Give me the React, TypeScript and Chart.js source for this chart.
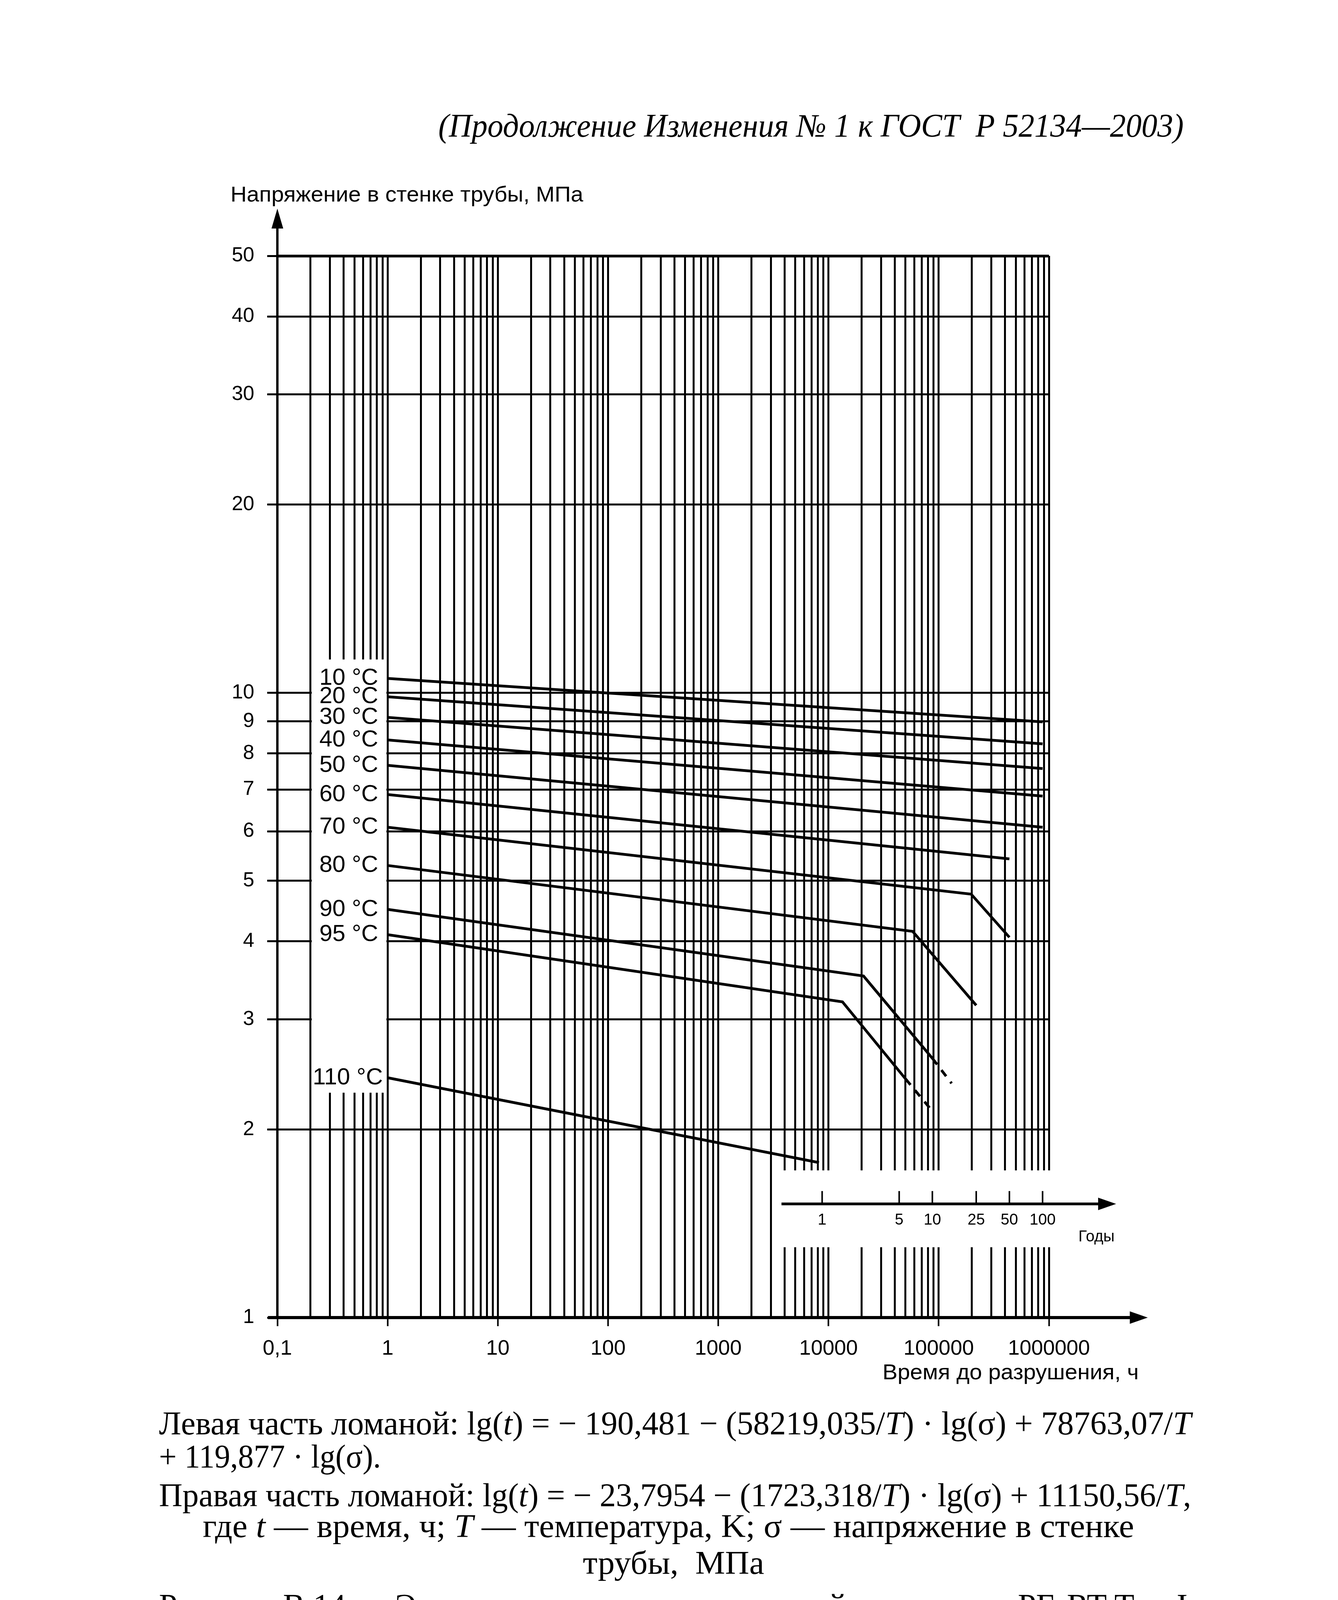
import React, { useEffect, useLayoutEffect, useRef } from 'react';
import { Chart, registerables } from 'chart.js';

Chart.register(...registerables);

// ---------- axis ticks ----------
const yTickValues = [1, 2, 3, 4, 5, 6, 7, 8, 9, 10, 20, 30, 40, 50];
const yTickLabels = ['1', '2', '3', '4', '5', '6', '7', '8', '9', '10', '20', '30', '40', '50'];
const xDecades = [0.1, 1, 10, 100, 1000, 10000, 100000, 1000000];
const xDecadeLabels = ['0,1', '1', '10', '100', '1000', '10000', '100000', '1000000'];
const yearTicks = [1, 5, 10, 25, 50, 100];
const yearLabels = ['1', '5', '10', '25', '50', '100'];
const HOURS_PER_YEAR = 8760;

// ---------- series (time to failure, h / hoop stress, MPa) ----------
const seriesLabels = ['10 °C', '20 °C', '30 °C', '40 °C', '50 °C', '60 °C', '70 °C', '80 °C', '90 °C', '95 °C', '110 °C'];
const temp10Hours = [1, 876000];
const temp10Stress = [10.54, 8.98];
const temp20Hours = [1, 876000];
const temp20Stress = [9.85, 8.28];
const temp30Hours = [1, 876000];
const temp30Stress = [9.13, 7.56];
const temp40Hours = [1, 876000];
const temp40Stress = [8.4, 6.83];
const temp50Hours = [1, 876000];
const temp50Stress = [7.65, 6.09];
const temp60Hours = [1, 438000];
const temp60Stress = [6.87, 5.42];
const temp70Hours = [1, 197000, 438000];
const temp70Stress = [6.09, 4.76, 4.06];
const temp80Hours = [1, 58000, 219000];
const temp80Stress = [5.29, 4.15, 3.16];
const temp90Hours = [1, 20800, 87600, 131000];
const temp90Stress = [4.5, 3.52, 2.6, 2.37];
const temp95Hours = [1, 13400, 50000, 87600];
const temp95Stress = [4.1, 3.2, 2.41, 2.14];
const temp110Hours = [1, 8200];
const temp110Stress = [2.42, 1.77];
// index of first dashed segment (-1 = none)
const dashedFrom = [-1, -1, -1, -1, -1, -1, -1, -1, 2, 2, -1];

const seriesHours = [temp10Hours, temp20Hours, temp30Hours, temp40Hours, temp50Hours, temp60Hours, temp70Hours, temp80Hours, temp90Hours, temp95Hours, temp110Hours];
const seriesStress = [temp10Stress, temp20Stress, temp30Stress, temp40Stress, temp50Stress, temp60Stress, temp70Stress, temp80Stress, temp90Stress, temp95Stress, temp110Stress];

// ---------- layout ----------
const PAGE_W = 3425;
const PAGE_H = 4725;
const CANVAS_H = 3600;
const AREA_L = 710;
const AREA_R = 2685;
const AREA_T = 655;
const AREA_B = 3373;
const Y_AXIS_W = 200;
const X_AXIS_H = 150;

const FONT_SANS = '"Liberation Sans", Arial, sans-serif';
const FONT_SERIF = '"Liberation Serif", "Times New Roman", serif';

const xGridValues: number[] = (() => {
  const out: number[] = [];
  for (let i = 0; i < xDecades.length - 1; i++) {
    for (let k = 1; k <= 9; k++) out.push(k * xDecades[i]);
  }
  out.push(xDecades[xDecades.length - 1]);
  return out;
})();

function decadeIndex(v: number): number {
  if (!(v > 0)) return -1;
  const l = Math.log10(v);
  return xDecades.findIndex((d) => Math.abs(Math.log10(d) - l) < 1e-6);
}

const decorPlugin = {
  id: 'decor',
  beforeDatasetsDraw(chart: any) {
    const { ctx, chartArea, scales } = chart;
    const x = scales.x;
    const y = scales.y;
    ctx.save();
    ctx.fillStyle = '#ffffff';
    // blank box holding the temperature labels
    const lx0 = x.getPixelForValue(0.2) + 3;
    const lx1 = x.getPixelForValue(1) - 3;
    const ly0 = y.getPixelForValue(11.3);
    const ly1 = y.getPixelForValue(2.29);
    ctx.fillRect(lx0, ly0, lx1 - lx0, ly1 - ly0);
    // blank box holding the years scale
    const bx0 = x.getPixelForValue(3000) + 3;
    const bx1 = chartArea.right + 240;
    const by0 = y.getPixelForValue(1.72);
    const by1 = y.getPixelForValue(1.296);
    ctx.fillRect(bx0, by0, bx1 - bx0, by1 - by0);
    ctx.restore();
  },
  afterDraw(chart: any) {
    const { ctx, chartArea, scales } = chart;
    const x = scales.x;
    const y = scales.y;
    ctx.save();
    ctx.strokeStyle = '#000';
    ctx.fillStyle = '#000';
    ctx.lineCap = 'butt';

    // y axis extension + arrow
    ctx.lineWidth = 6;
    ctx.beginPath();
    ctx.moveTo(chartArea.left, chartArea.top);
    ctx.lineTo(chartArea.left, chartArea.top - 70);
    ctx.stroke();
    ctx.beginPath();
    ctx.moveTo(chartArea.left, chartArea.top - 121);
    ctx.lineTo(chartArea.left - 15, chartArea.top - 70);
    ctx.lineTo(chartArea.left + 15, chartArea.top - 70);
    ctx.closePath();
    ctx.fill();

    // x axis extension + arrow
    ctx.lineWidth = 8;
    ctx.beginPath();
    ctx.moveTo(chartArea.left - 24, chartArea.bottom);
    ctx.lineTo(chartArea.right + 210, chartArea.bottom);
    ctx.stroke();
    ctx.beginPath();
    ctx.moveTo(chartArea.right + 253, chartArea.bottom);
    ctx.lineTo(chartArea.right + 207, chartArea.bottom - 16);
    ctx.lineTo(chartArea.right + 207, chartArea.bottom + 16);
    ctx.closePath();
    ctx.fill();

    // temperature labels
    ctx.font = `60px ${FONT_SANS}`;
    ctx.textAlign = 'right';
    ctx.textBaseline = 'middle';
    const x1 = x.getPixelForValue(1);
    seriesLabels.forEach((lab, i) => {
      const off = lab.length > 5 ? 12 : 24;
      ctx.fillText(lab, x1 - off, y.getPixelForValue(seriesStress[i][0]));
    });

    // years scale
    const yy = y.getPixelForValue(1.52);
    const ys0 = x.getPixelForValue(4000) - 8;
    ctx.lineWidth = 7;
    ctx.beginPath();
    ctx.moveTo(ys0, yy);
    ctx.lineTo(chartArea.right + 130, yy);
    ctx.stroke();
    ctx.beginPath();
    ctx.moveTo(chartArea.right + 172, yy);
    ctx.lineTo(chartArea.right + 126, yy - 16);
    ctx.lineTo(chartArea.right + 126, yy + 16);
    ctx.closePath();
    ctx.fill();
    ctx.lineWidth = 4;
    ctx.font = `40px ${FONT_SANS}`;
    ctx.textAlign = 'center';
    yearTicks.forEach((yr, i) => {
      const px = x.getPixelForValue(yr * HOURS_PER_YEAR);
      ctx.beginPath();
      ctx.moveTo(px, yy);
      ctx.lineTo(px, yy - 33);
      ctx.stroke();
      ctx.fillText(yearLabels[i], px, yy + 42);
    });
    ctx.textAlign = 'right';
    ctx.fillText('Годы', chartArea.right + 168, yy + 85);
    ctx.restore();
  },
};

type FitProps = {
  left: number;
  baseline: number;
  width: number;
  size: number;
  family: string;
  italic?: boolean;
  children: React.ReactNode;
};

function FitText({ left, baseline, width, size, family, italic, children }: FitProps) {
  const ref = useRef<HTMLDivElement>(null);
  useLayoutEffect(() => {
    const fit = () => {
      const el = ref.current;
      if (!el) return;
      el.style.transform = 'none';
      const w = el.getBoundingClientRect().width;
      if (w > 0) el.style.transform = `scaleX(${width / w})`;
    };
    fit();
    const fonts = (document as any).fonts;
    if (fonts && fonts.ready) fonts.ready.then(fit);
  }, [width]);
  const asc = family.indexOf('Serif') >= 0 ? 0.8375 : 0.8465;
  return (
    <div
      ref={ref}
      style={{
        position: 'absolute',
        left,
        top: baseline - asc * size,
        fontSize: size,
        lineHeight: `${size}px`,
        fontFamily: family,
        fontStyle: italic ? 'italic' : 'normal',
        whiteSpace: 'pre',
        transformOrigin: '0 0',
        color: '#000',
        width: 'max-content',
      }}
    >
      {children}
    </div>
  );
}

export default function App() {
  const canvasRef = useRef<HTMLCanvasElement>(null);

  useEffect(() => {
    const canvas = canvasRef.current;
    if (!canvas) return;
    const datasets = seriesLabels.map((lab, i) => ({
      label: lab,
      data: seriesHours[i].map((h, j) => ({ x: h, y: seriesStress[i][j] })),
      borderColor: '#000',
      backgroundColor: '#000',
      borderWidth: 7,
      pointRadius: 0,
      tension: 0,
      fill: false,
      segment: {
        borderDash: (c: any) => (dashedFrom[i] >= 0 && c.p0DataIndex >= dashedFrom[i] ? [20, 18] : undefined),
      },
    }));

    const chart = new Chart(canvas, {
      type: 'line',
      data: { datasets },
      options: {
        animation: false,
        responsive: false,
        devicePixelRatio: 1,
        events: [],
        layout: {
          padding: {
            left: AREA_L - Y_AXIS_W,
            right: PAGE_W - AREA_R,
            top: AREA_T,
            bottom: CANVAS_H - AREA_B - X_AXIS_H,
          },
        },
        plugins: {
          legend: { display: false },
          tooltip: { enabled: false },
          title: { display: false },
        },
        scales: {
          x: {
            type: 'logarithmic',
            position: 'bottom',
            min: 0.1,
            max: 1000000,
            afterBuildTicks: (s: any) => {
              s.ticks = xGridValues.map((v) => ({ value: v }));
            },
            afterFit: (s: any) => {
              s.height = X_AXIS_H;
            },
            ticks: {
              autoSkip: false,
              maxRotation: 0,
              minRotation: 0,
              padding: 26,
              color: '#000',
              font: { family: FONT_SANS, size: 54 },
              callback: (v: any) => {
                const idx = decadeIndex(Number(v));
                return idx >= 0 ? xDecadeLabels[idx] : '';
              },
            },
            grid: {
              color: '#000',
              lineWidth: 5,
              drawTicks: true,
              tickLength: 22,
              tickWidth: 4,
              tickColor: (c: any) => (c.tick && decadeIndex(c.tick.value) >= 0 ? '#000' : 'rgba(0,0,0,0)'),
            },
            border: { display: true, color: '#000', width: 8 },
          },
          y: {
            type: 'logarithmic',
            position: 'left',
            min: 1,
            max: 50,
            afterBuildTicks: (s: any) => {
              s.ticks = yTickValues.map((v) => ({ value: v }));
            },
            afterFit: (s: any) => {
              s.width = Y_AXIS_W;
            },
            ticks: {
              autoSkip: false,
              padding: 33,
              color: '#000',
              font: { family: FONT_SANS, size: 52 },
              callback: (v: any) => {
                const idx = yTickValues.indexOf(Number(v));
                return idx >= 0 ? yTickLabels[idx] : '';
              },
            },
            grid: {
              color: '#000',
              lineWidth: (c: any) => (c.tick && c.tick.value === 50 ? 7 : 5),
              drawTicks: true,
              tickLength: 26,
              tickWidth: 5,
              tickColor: '#000',
            },
            border: { display: true, color: '#000', width: 6 },
          },
        },
      } as any,
      plugins: [decorPlugin as any],
    });
    return () => chart.destroy();
  }, []);

  return (
    <div style={{ position: 'absolute', left: 0, top: 0, width: PAGE_W, height: PAGE_H, background: '#fff', overflow: 'hidden' }}>
      <FitText left={1122} baseline={350} width={1908} size={84} family={FONT_SERIF} italic>
        {'(Продолжение Изменения № 1 к ГОСТ  Р 52134—2003)'}
      </FitText>

      <FitText left={590} baseline={516} width={903} size={56} family={FONT_SANS}>
        {'Напряжение в стенке трубы, МПа'}
      </FitText>

      <canvas
        ref={canvasRef}
        width={PAGE_W}
        height={CANVAS_H}
        style={{ position: 'absolute', left: 0, top: 0, width: PAGE_W, height: CANVAS_H }}
      />

      <FitText left={2259} baseline={3531} width={656} size={56} family={FONT_SANS}>
        {'Время до разрушения, ч'}
      </FitText>

      <FitText left={407} baseline={3672} width={2642} size={85} family={FONT_SERIF}>
        {'Левая часть ломаной: lg('}<i>t</i>{') = − 190,481 − (58219,035/'}<i>T</i>{') · lg(σ) + 78763,07/'}<i>T</i>
      </FitText>
      <FitText left={407} baseline={3757} width={568} size={85} family={FONT_SERIF}>
        {'+ 119,877 · lg(σ).'}
      </FitText>
      <FitText left={407} baseline={3856} width={2642} size={85} family={FONT_SERIF}>
        {'Правая часть ломаной: lg('}<i>t</i>{') = − 23,7954 − (1723,318/'}<i>T</i>{') · lg(σ) + 11150,56/'}<i>T</i>{','}
      </FitText>
      <FitText left={519} baseline={3935} width={2384} size={85} family={FONT_SERIF}>
        {'где '}<i>t</i>{' — время, ч; '}<i>T</i>{' — температура, K; σ — напряжение в стенке'}
      </FitText>
      <FitText left={1492} baseline={4029} width={464} size={85} family={FONT_SERIF}>
        {'трубы,  МПа'}
      </FitText>
      <FitText left={407} baseline={4139} width={2633} size={85} family={FONT_SERIF}>
        {'Рисунок В.14 — Эталонные  кривые  длительной прочности  PE-RT Тип I'}
      </FitText>
      <FitText left={2189} baseline={4261} width={843} size={85} family={FONT_SERIF} italic>
        {'(Продолжение см. с. 139)'}
      </FitText>
      <FitText left={402} baseline={4465} width={103} size={82} family={FONT_SERIF}>
        {'138'}
      </FitText>
    </div>
  );
}
